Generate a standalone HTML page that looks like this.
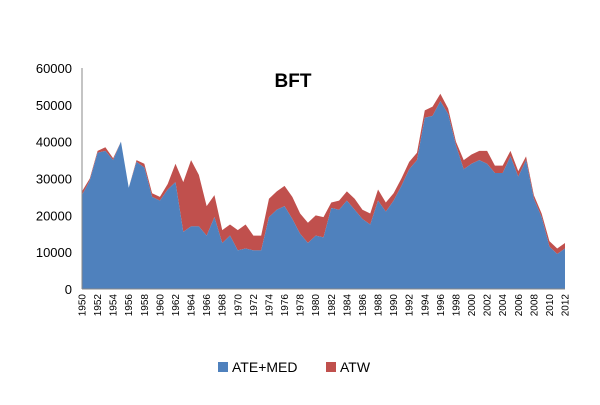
<!DOCTYPE html>
<html><head><meta charset="utf-8"><style>
body{margin:0;background:#fff;font-family:"Liberation Sans",sans-serif}
</style></head><body>
<svg id="chart" width="600" height="400" xmlns="http://www.w3.org/2000/svg" font-family="Liberation Sans, sans-serif">
<rect width="600" height="400" fill="#fff"/>
<g id="grid"></g>
<g id="areas"></g>
<g id="axes"></g>
<text x="293" y="87" font-size="19" font-weight="bold" text-anchor="middle">BFT</text>
<g>
<rect x="218" y="362" width="10" height="10" fill="#4f81bd"/>
<text x="232" y="372" font-size="14">ATE+MED</text>
<rect x="326" y="362" width="10" height="10" fill="#c0504d"/>
<text x="340" y="372" font-size="14">ATW</text>
</g>
</svg>
<script>
const years=[];for(let y=1950;y<=2012;y++)years.push(y);
const ateMed=[25500,29500,37000,37500,35000,40000,27500,34500,33000,25000,24000,27000,29000,15500,17000,17000,14500,19500,12500,14500,10500,11000,10500,10500,19500,21500,22500,19000,15000,12500,14500,14000,22000,21500,24000,21500,19000,17500,24000,21000,24000,28000,32500,35000,46500,47000,51000,47500,39000,32500,34000,35000,34000,31500,31500,36000,30500,35000,24500,19500,11500,9500,11000];
const atw=[1000,500,500,1000,500,0,0,500,1000,1000,1000,1500,5000,13500,18000,14000,8000,6000,3500,3000,5500,6500,4000,4000,5000,5000,5500,6000,5500,5500,5500,5500,1500,2500,2500,3000,2500,3000,3000,2500,2000,2000,2000,2000,2000,2500,2000,1500,1000,2500,2500,2500,3500,2000,2000,1500,1500,1000,1000,1000,1500,1500,1500];
const yTicks=[0,10000,20000,30000,40000,50000,60000];
const NS='http://www.w3.org/2000/svg';
const x0=82,x1=565,yb=289,yt=68,ymax=60000;
const X=i=>x0+(x1-x0)*i/(years.length-1);
const Y=v=>yb-(yb-yt)*v/ymax;
function mk(t,a,p){const e=document.createElementNS(NS,t);for(const k in a)e.setAttribute(k,a[k]);p.appendChild(e);return e;}
const areasG=document.getElementById('areas'),axesG=document.getElementById('axes');
const topPts=years.map((_,i)=>X(i)+','+Y(ateMed[i]+atw[i]));
const midPts=years.map((_,i)=>X(i)+','+Y(ateMed[i]));
const red=mk('polygon',{points:topPts.join(' ')+' '+midPts.slice().reverse().join(' '),fill:'#c0504d'},areasG);


const blue=mk('polygon',{points:midPts.join(' ')+' '+X(years.length-1)+','+yb+' '+X(0)+','+yb,fill:'#4f81bd'},areasG);


const ya=mk('line',{x1:x0,y1:yt,x2:x0,y2:yb,stroke:'#888'},axesG);


const xa=mk('line',{x1:x0,y1:yb,x2:x1,y2:yb,stroke:'#888'},axesG);


yTicks.forEach(v=>{const t=mk('text',{x:x0-10,y:Y(v)+5,'font-size':13,'text-anchor':'end'},axesG);t.textContent=v;

});
years.forEach((y,i)=>{if(y%2)return;const t=mk('text',{transform:`translate(${X(i)+3.5},${yb+5}) rotate(-90)`,'font-size':10,'text-anchor':'end'},axesG);t.textContent=y;

});
</script>
</body></html>
